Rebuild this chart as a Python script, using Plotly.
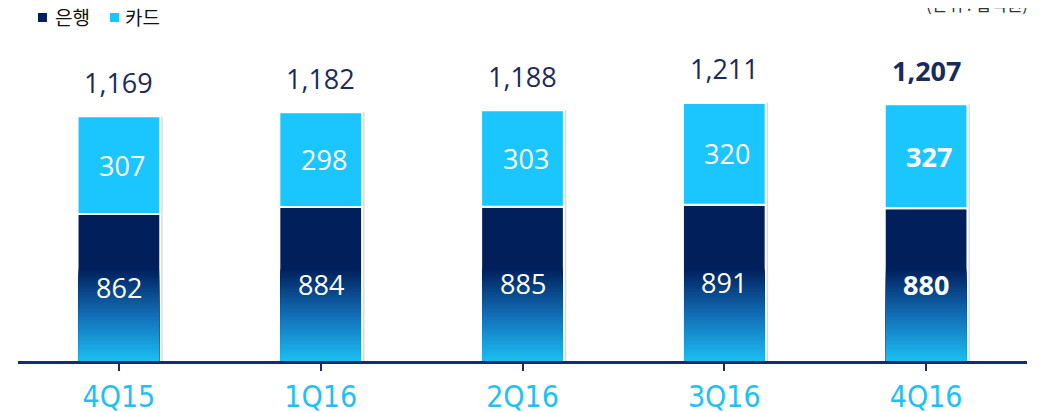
import plotly.graph_objects as go

categories = ["4Q15", "1Q16", "2Q16", "3Q16", "4Q16"]
bank = [862, 884, 885, 891, 880]
card = [307, 298, 303, 320, 327]
totals = [b + c for b, c in zip(bank, card)]
series_names = ["은행", "카드"]

Y_FLOOR = 400      # axis starts here (chart is truncated)
Y_TOP = 1409
BAR_W = 0.41

NAVY = "#001f5b"
CYAN = "#1ac6fd"
TXT_NAVY = "#1b2a5c"
TICK_CYAN = "#1ec1f6"
FONT = "Open Sans"

fig = go.Figure()

# shadow behind bars
fig.add_trace(go.Bar(
    x=categories, y=totals, base=[0] * 5, width=BAR_W, offset=-BAR_W / 2 + 0.012,
    marker=dict(color="rgba(120,120,150,0.28)", line=dict(width=0)),
    showlegend=False, hoverinfo="skip"))

fig.add_trace(go.Bar(
    name=series_names[0], x=categories, y=bank, base=[0] * 5, width=BAR_W,
    marker=dict(color=NAVY, line=dict(color="white", width=2)),
    textposition="none", showlegend=False))
fig.add_trace(go.Bar(
    name=series_names[1], x=categories, y=card, base=bank, width=BAR_W,
    marker=dict(color=CYAN, line=dict(color="white", width=2)),
    textposition="none", showlegend=False))

# gradient at the bottom of bank bars (nested layers, no gaps)
N = 60
g_top = 690
stops = [(0.0, (27, 190, 242)), (0.5, (18, 110, 182)), (1.0, (0, 31, 91))]
def interp(t):
    for (t0, c0), (t1, c1) in zip(stops[:-1], stops[1:]):
        if t0 <= t <= t1:
            f = (t - t0) / (t1 - t0)
            return "rgb(%d,%d,%d)" % tuple(round(a + (b - a) * f) for a, b in zip(c0, c1))
    return "rgb(%d,%d,%d)" % stops[-1][1]
step = (g_top - Y_FLOOR) / N
for k in range(N):
    top = g_top - k * step
    fig.add_trace(go.Bar(
        x=categories, y=[top - Y_FLOOR + 5] * 5, base=[Y_FLOOR - 5] * 5, width=BAR_W - 0.012,
        marker=dict(color=interp(1 - (k + 0.5) / N), line=dict(width=0)),
        showlegend=False, hoverinfo="skip"))

annotations = []
for i, cat in enumerate(categories):
    bold = i == len(categories) - 1
    def fmt(v):
        s = f"{v:,}"
        return f"<b>{s}</b>" if bold else s
    annotations.append(dict(x=cat, y=(Y_FLOOR + bank[i]) / 2, text=fmt(bank[i]),
                            showarrow=False, font=dict(family=FONT, size=27, color="white")))
    annotations.append(dict(x=cat, y=bank[i] + card[i] / 2, text=fmt(card[i]),
                            showarrow=False, xshift=3, font=dict(family=FONT, size=27, color="white")))
    annotations.append(dict(x=cat, y=totals[i], text=fmt(totals[i]), yshift=34,
                            showarrow=False, font=dict(family=FONT, size=27, color=TXT_NAVY)))

annotations.append(dict(xref="paper", yref="paper", x=1.003, y=1.115, xanchor="right",
                        yanchor="middle", text="(단위 : 십억원)", showarrow=False,
                        font=dict(family="Noto Sans CJK KR", size=17, color="#333333")))

# manual legend
legend_items = [(series_names[0], NAVY, 0.0198, 0.0347),
                (series_names[1], CYAN, 0.0912, 0.1041)]
shapes = []
for name, color, sx, tx in legend_items:
    shapes.append(dict(type="rect", xref="paper", yref="paper", x0=sx, x1=sx + 0.0089,
                       y0=1.0561, y1=1.0841, fillcolor=color, line=dict(width=0)))
    annotations.append(dict(xref="paper", yref="paper", x=tx, y=1.0717, xanchor="left",
                            yanchor="middle", text=name, showarrow=False,
                            font=dict(family="Noto Sans CJK KR", size=19, color="#111111")))

fig.update_layout(
    width=1049, height=412,
    margin=dict(l=10, r=30, t=32, b=59, autoexpand=False),
    barmode="overlay",
    plot_bgcolor="white", paper_bgcolor="white",
    showlegend=False,
    annotations=annotations,
    shapes=shapes,
    xaxis=dict(range=[-0.5, 4.5], showline=True, linecolor="#1a2a6e", linewidth=3,
               ticks="outside", ticklen=7, tickwidth=2, tickcolor="#1a2a6e",
               tickfont=dict(family="DejaVu Sans Condensed", size=30, color=TICK_CYAN),
               showgrid=False, zeroline=False, fixedrange=True, automargin=False),
    yaxis=dict(range=[Y_FLOOR, Y_TOP], visible=False, showgrid=False, zeroline=False),
)

fig.write_html("out.html")
